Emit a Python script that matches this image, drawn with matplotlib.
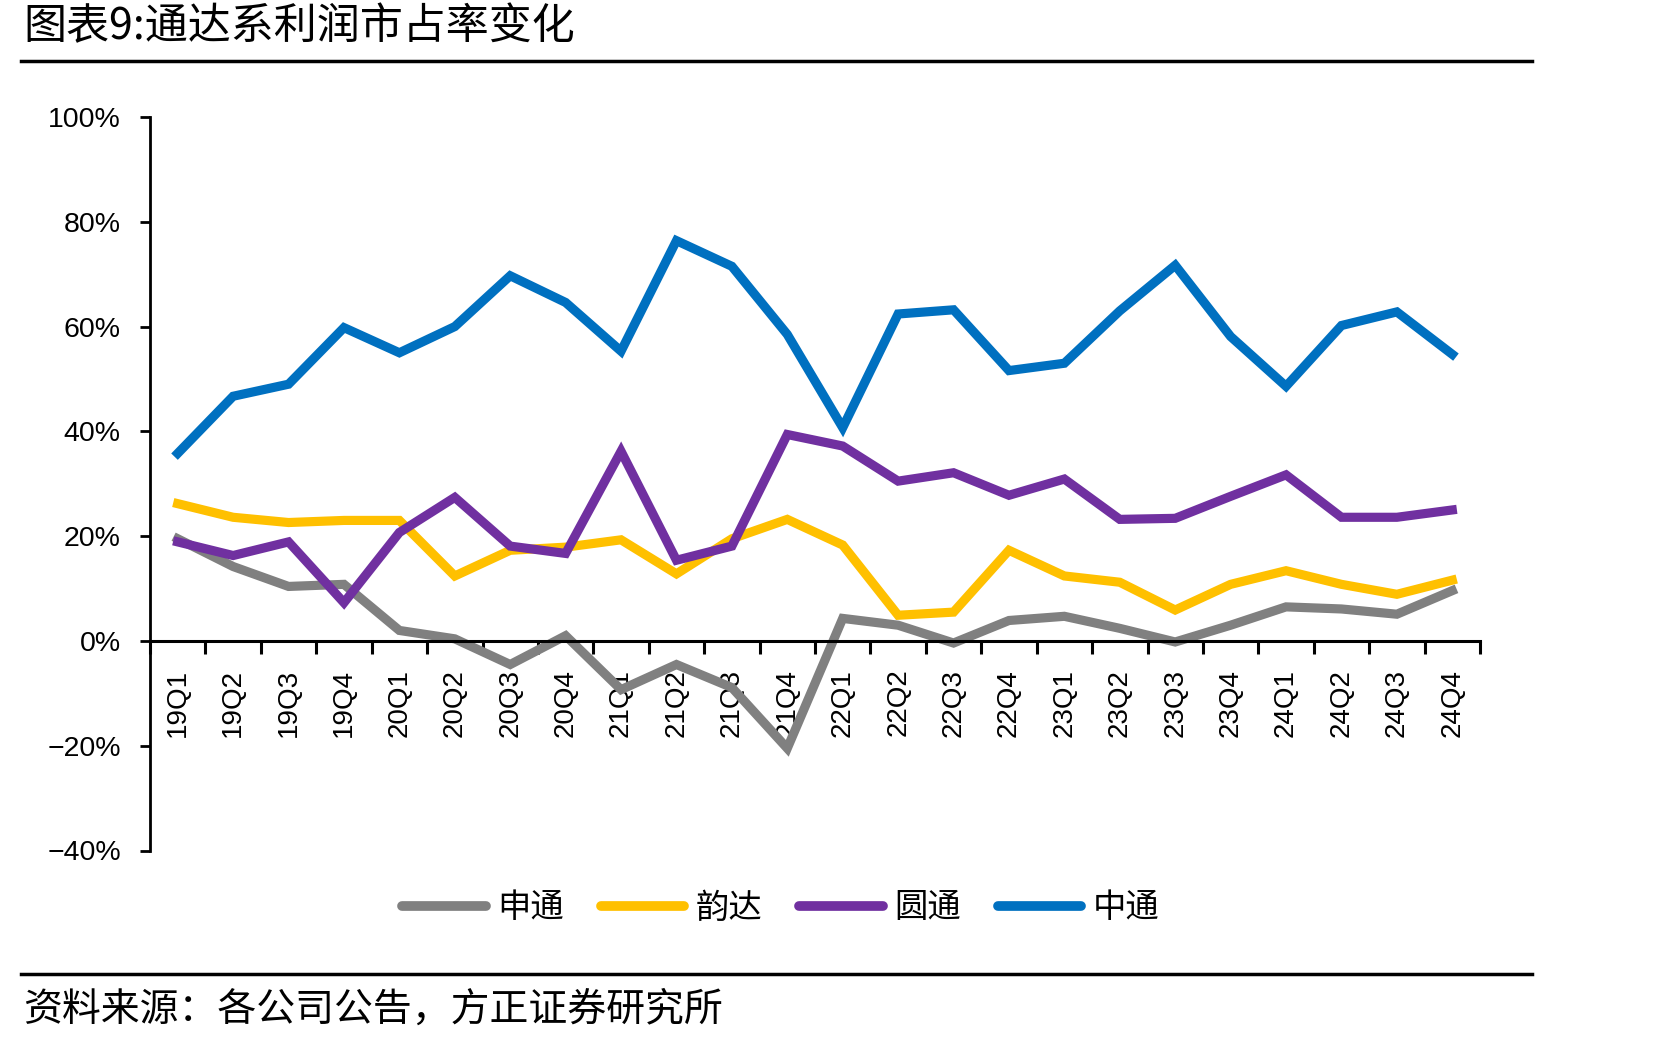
import matplotlib
matplotlib.use("Agg")
import matplotlib.pyplot as plt
from matplotlib.lines import Line2D
import numpy as np

plt.rcParams['font.family'] = ['Noto Sans CJK SC', 'DejaVu Sans']
plt.rcParams['axes.unicode_minus'] = True

# 季度
quarters = ['19Q1', '19Q2', '19Q3', '19Q4', '20Q1', '20Q2', '20Q3', '20Q4',
            '21Q1', '21Q2', '21Q3', '21Q4', '22Q1', '22Q2', '22Q3', '22Q4',
            '23Q1', '23Q2', '23Q3', '23Q4', '24Q1', '24Q2', '24Q3', '24Q4']

# 利润市占率 (%)
shentong = [19.5, 14.2, 10.4, 10.8, 2.0, 0.4, -4.5, 1.0,
            -9.3, -4.5, -8.9, -20.5, 4.3, 3.0, -0.4, 3.9,
            4.7, 2.4, -0.2, 3.0, 6.5, 6.1, 5.1, 9.6]
yunda = [26.2, 23.6, 22.6, 23.0, 23.0, 12.4, 17.3, 17.9,
         19.3, 12.8, 19.5, 23.2, 18.3, 4.9, 5.5, 17.3,
         12.4, 11.2, 5.9, 10.8, 13.4, 10.8, 8.9, 11.6]
yuantong = [18.9, 16.3, 18.9, 7.3, 20.7, 27.4, 18.1, 16.7,
            36.2, 15.4, 18.1, 39.4, 37.2, 30.5, 32.1, 27.8,
            30.9, 23.2, 23.4, 27.6, 31.7, 23.6, 23.6, 25.0]
zhongtong = [35.8, 46.7, 49.0, 59.8, 55.0, 60.0, 69.7, 64.6,
             55.3, 76.4, 71.5, 58.5, 40.7, 62.4, 63.2, 51.6,
             53.0, 63.0, 71.7, 58.1, 48.6, 60.2, 62.8, 54.7]

series_names = ['申通', '韵达', '圆通', '中通']
series_colors = ['#808080', '#FFC000', '#7030A0', '#0070C0']
y_ticks = [-40, -20, 0, 20, 40, 60, 80, 100]
y_labels = ['\u221240%', '\u221220%', '0%', '20%', '40%', '60%', '80%', '100%']

fig = plt.figure(figsize=(16.71, 10.45), dpi=100)
ax = fig.add_axes([150 / 1671, 1 - 850.5 / 1045, (1480 - 150) / 1671, (850.5 - 117) / 1045])

x = np.arange(len(quarters))
for vals, name, col in zip([shentong, yunda, yuantong, zhongtong], series_names, series_colors):
    ax.plot(x, vals, color=col, lw=6.6, label=name, solid_joinstyle='miter')

ax.set_xlim(-0.5, len(quarters) - 0.5)
ax.set_ylim(-40, 100)

for s in ['top', 'right']:
    ax.spines[s].set_visible(False)
ax.spines['bottom'].set_position(('data', 0))
ax.spines['bottom'].set_linewidth(2.2)
ax.spines['left'].set_linewidth(2.0)

# x轴: 主刻度在分界处, 次刻度放标签
ax.set_xticks(np.arange(-0.5, len(quarters), 1.0))
ax.set_xticklabels([])
ax.set_xticks(x, minor=True)
ax.set_xticklabels(quarters, minor=True, rotation=90, family='Liberation Sans', fontsize=20)
ax.tick_params(axis='x', which='major', direction='out', length=9, width=2.2)
ax.tick_params(axis='x', which='minor', length=0, pad=20)

ax.set_yticks(y_ticks)
ax.set_yticklabels(y_labels, family='Liberation Sans', fontsize=20.5)
ax.tick_params(axis='y', direction='out', length=7, width=2.0, pad=14)

leg = ax.legend(loc='center', bbox_to_anchor=(781 / 1671, 1 - 908 / 1045),
                bbox_transform=fig.transFigure, ncol=4, frameon=False,
                fontsize=24, handlelength=2.5, handletextpad=0.35, columnspacing=1.1)
for h in leg.get_lines():
    h.set_linewidth(7)
    h.set_solid_capstyle('round')

# 标题与来源
fig.text(23 / 1671, 1 - 27 / 1045, '图表9:通达系利润市占率变化', fontsize=31,
         ha='left', va='center')
fig.text(23 / 1671, 1 - 1010 / 1045, '资料来源：各公司公告，方正证券研究所', fontsize=28,
         ha='left', va='center', style='italic')
fig.add_artist(Line2D([21 / 1671, 1532 / 1671], [1 - 61 / 1045] * 2, color='black', lw=2.5))
fig.add_artist(Line2D([21 / 1671, 1532 / 1671], [1 - 974 / 1045] * 2, color='black', lw=2.5))

fig.savefig('out.png', dpi=100)
